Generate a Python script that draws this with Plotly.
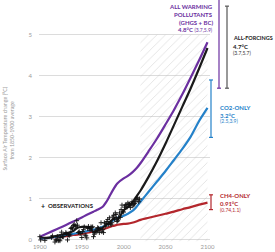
import plotly.graph_objects as go

# ---------------- data ----------------
model_years = [1900, 1910, 1920, 1930, 1940, 1945, 1950, 1955, 1960, 1964, 1968, 1975, 1980,
               1984, 1987, 1991, 1993, 2000, 2005, 2010, 2015, 2020, 2030, 2040, 2050, 2060,
               2070, 2080, 2090, 2100]

all_warming = [0.08, 0.17, 0.26, 0.35, 0.45, 0.50, 0.55, 0.60, 0.65, 0.69, 0.73, 0.81, 0.95,
               1.10, 1.21, 1.34, 1.39, 1.50, 1.56, 1.64, 1.74, 1.87, 2.17, 2.48, 2.82, 3.17,
               3.55, 3.96, 4.38, 4.82]

all_forcings = [0.06, 0.05, 0.10, 0.15, 0.22, 0.30, 0.32, 0.32, 0.30, 0.18, 0.22, 0.30, 0.38,
                0.45, 0.50, 0.55, 0.50, 0.72, 0.80, 0.90, 1.05, 1.20, 1.55, 1.93, 2.35, 2.80,
                3.25, 3.70, 4.18, 4.68]

co2_only = [0.03, 0.05, 0.08, 0.12, 0.15, 0.17, 0.19, 0.21, 0.23, 0.25, 0.27, 0.32, 0.37,
            0.43, 0.47, 0.52, 0.54, 0.59, 0.64, 0.70, 0.80, 0.93, 1.18, 1.43, 1.68, 1.95,
            2.22, 2.52, 2.90, 3.22]

ch4_only = [0.03, 0.05, 0.07, 0.09, 0.12, 0.13, 0.15, 0.17, 0.19, 0.21, 0.23, 0.26, 0.29,
            0.32, 0.34, 0.36, 0.37, 0.39, 0.40, 0.42, 0.45, 0.49, 0.54, 0.59, 0.64, 0.69,
            0.75, 0.80, 0.86, 0.91]

obs_years = list(range(1900, 2020))
obs_values = [0.08, 0.00, -0.13, -0.20, -0.20, -0.08, -0.01, -0.17, -0.20, -0.17,
              -0.15, -0.18, -0.10, -0.08, 0.06, 0.10, -0.08, -0.15, -0.05, 0.00,
              0.00, 0.08, -0.02, 0.00, -0.02, 0.06, 0.19, 0.08, 0.08, -0.06,
              0.13, 0.18, 0.15, 0.00, 0.13, 0.10, 0.14, 0.28, 0.30, 0.27,
              0.35, 0.38, 0.33, 0.35, 0.47, 0.36, 0.18, 0.20, 0.16, 0.16,
              0.06, 0.20, 0.25, 0.32, 0.12, 0.10, 0.05, 0.28, 0.33, 0.28,
              0.24, 0.32, 0.30, 0.32, 0.08, 0.14, 0.20, 0.24, 0.20, 0.30,
              0.28, 0.18, 0.27, 0.42, 0.20, 0.25, 0.18, 0.42, 0.33, 0.40,
              0.45, 0.50, 0.38, 0.54, 0.40, 0.37, 0.42, 0.56, 0.60, 0.50,
              0.66, 0.62, 0.45, 0.47, 0.55, 0.66, 0.55, 0.74, 0.85, 0.70,
              0.68, 0.80, 0.85, 0.86, 0.80, 0.90, 0.87, 0.87, 0.79, 0.88,
              0.93, 0.83, 0.86, 0.89, 0.93, 1.00, 1.04, 0.98, 0.93, 1.00]

projection_start = 2020
projection_end = 2100
x_ticks = [1900, 1950, 2000, 2050, 2100]
y_ticks = [0, 1, 2, 3, 4, 5]

rng_all_warming = (3.7, 5.9)
rng_all_forcings = (3.7, 5.7)
rng_co2 = (2.5, 3.9)
rng_ch4 = (0.74, 1.1)

# ---------------- style ----------------
PURPLE = "#6b2fa0"
BLACK = "#1a1a1a"
BLUE = "#2481c9"
RED = "#b3262c"
GRAY_BAR = "#555555"

W, H = 275, 252
L, R, T, B = 39, 65, 0, 10
XR = [1899, 2103]
YR = [-0.05, 5.85]
PW = W - L - R
PH = H - T - B


def px2paper_x(px):
    return (px - L) / PW


def px2paper_y(py):
    return (H - B - py) / PH


def val2paper_y(v):
    return (v - YR[0]) / (YR[1] - YR[0])


FONT = "Lato"

fig = go.Figure()

# hatched projection region
fig.add_trace(go.Scatter(
    x=[projection_start, projection_end, projection_end, projection_start, projection_start],
    y=[-0.03, -0.03, 5.0, 5.0, -0.03],
    mode="lines", line=dict(width=0), fill="toself", fillcolor="rgba(0,0,0,0)",
    fillpattern=dict(shape="/", fgcolor="#b8b8b8", bgcolor="rgba(255,255,255,0)",
                     size=6, solidity=0.12),
    hoverinfo="skip", showlegend=False))

for ys, col in [(ch4_only, RED), (co2_only, BLUE), (all_forcings, BLACK), (all_warming, PURPLE)]:
    fig.add_trace(go.Scatter(x=model_years, y=ys, mode="lines",
                             line=dict(color=col, width=2.2, shape="spline", smoothing=0.8),
                             showlegend=False, cliponaxis=False))

fig.add_trace(go.Scatter(x=obs_years, y=obs_values, mode="markers",
                         marker=dict(symbol="cross-thin", size=3.4, line=dict(color="#111", width=0.9)),
                         showlegend=False, cliponaxis=False))

shapes = []
annotations = []


def error_bar(px, lo, hi, color):
    x = px2paper_x(px)
    dx = 2.0 / PW
    shapes.append(dict(type="line", xref="paper", yref="paper", x0=x, x1=x,
                       y0=val2paper_y(lo), y1=val2paper_y(hi), line=dict(color=color, width=1.2)))
    for v in (lo, hi):
        shapes.append(dict(type="line", xref="paper", yref="paper", x0=x - dx, x1=x + dx,
                           y0=val2paper_y(v), y1=val2paper_y(v), line=dict(color=color, width=1.2)))


error_bar(219, *rng_all_warming, PURPLE)
error_bar(227, *rng_all_forcings, GRAY_BAR)
error_bar(211, *rng_co2, BLUE)
error_bar(211, *rng_ch4, RED)


def text(px, py, s, color, size=6, anchor="left", bold=True):
    annotations.append(dict(
        x=px2paper_x(px), y=px2paper_y(py), xref="paper", yref="paper",
        text=f"<b>{s}</b>" if bold else s, showarrow=False, xanchor=anchor, yanchor="middle",
        font=dict(family=FONT, size=size, color=color)))


text(215, 6, "ALL WARMING", PURPLE, anchor="right")
text(215, 14, "POLLUTANTS", PURPLE, anchor="right")
text(215, 22, "(GHGS + BC)", PURPLE, anchor="right")
annotations.append(dict(
    x=px2paper_x(215), y=px2paper_y(29.5), xref="paper", yref="paper", showarrow=False,
    xanchor="right", yanchor="middle",
    text=f"<b>4.8°C</b> <span style='font-size:5px'>({rng_all_warming[0]},{rng_all_warming[1]})</span>",
    font=dict(family=FONT, size=6, color=PURPLE)))

text(231, 38.5, "ALL-FORCINGS", BLACK, size=5.5)
text(231, 46, "4.7°C", BLACK)
text(231, 52.5, f"({rng_all_forcings[0]},{rng_all_forcings[1]})", "#333", size=5, bold=False)

text(218, 108, "CO2-ONLY", BLUE)
text(218, 115, "3.2°C", BLUE)
text(218, 121.5, f"({rng_co2[0]},{rng_co2[1]})", BLUE, size=5, bold=False)

text(218, 195, "CH4-ONLY", RED)
text(218, 203, "0.91°C", RED)
text(218, 210, f"({rng_ch4[0]},{rng_ch4[1]})", RED, size=5, bold=False)

text(38.5, 205.5, "+", "#111", size=7)
text(46, 205.5, "OBSERVATIONS", "#222", size=6)

annotations.append(dict(x=px2paper_x(4.5), y=px2paper_y(129), xref="paper", yref="paper",
                        text="Surface Air Temperature change (°C)", textangle=-90, showarrow=False,
                        xanchor="center", yanchor="middle",
                        font=dict(family=FONT, size=5.3, color="#9a9a9a")))
annotations.append(dict(x=px2paper_x(11.5), y=px2paper_y(130), xref="paper", yref="paper",
                        text="from 1850-1900 average", textangle=-90, showarrow=False,
                        xanchor="center", yanchor="middle",
                        font=dict(family=FONT, size=5.3, color="#9a9a9a")))

fig.update_layout(
    width=W, height=H, margin=dict(l=L, r=R, t=T, b=B, autoexpand=False),
    paper_bgcolor="white", plot_bgcolor="white", showlegend=False,
    shapes=shapes, annotations=annotations,
    xaxis=dict(range=XR, tickvals=x_ticks, showgrid=False, zeroline=False, showline=False,
               ticks="", tickfont=dict(family=FONT, size=6, color="#9a9a9a"), fixedrange=True),
    yaxis=dict(range=YR, tickvals=y_ticks, showgrid=True, gridcolor="#dcdcdc", gridwidth=1,
               zeroline=False, showline=False, ticks="", ticklabelstandoff=6,
               tickfont=dict(family=FONT, size=6, color="#9a9a9a"), fixedrange=True),
)

fig.write_html("out.html", config={"displayModeBar": False},
               post_script="document.body.style.margin='0px';document.body.style.overflow='hidden';")
